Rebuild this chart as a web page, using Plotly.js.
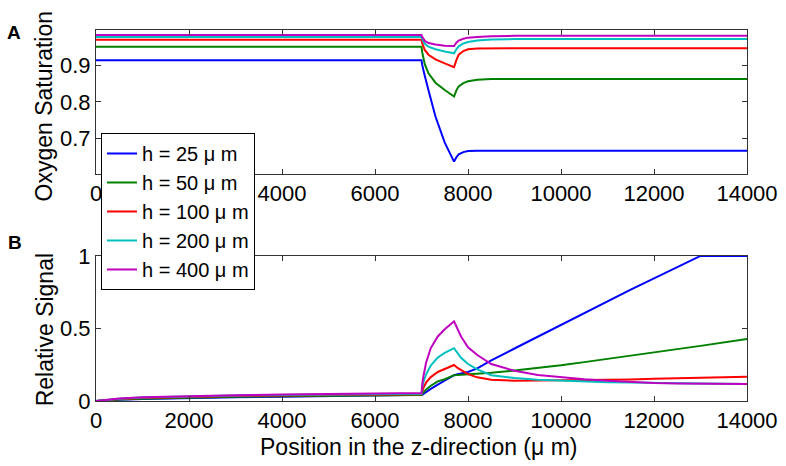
<!DOCTYPE html>
<html>
<head>
<meta charset="utf-8">
<script src="https://cdn.plot.ly/plotly-3.0.1.min.js"></script>
<style>html,body{margin:0;padding:0;background:#fff;}#chart{width:786px;height:466px;}</style>
</head>
<body>
<div id="chart"></div>
<script>
// Legend labels
var seriesNames = ['h = 25 \u03bc m', 'h = 50 \u03bc m', 'h = 100 \u03bc m', 'h = 200 \u03bc m', 'h = 400 \u03bc m'];
var seriesColors = ['#0000ff', '#008000', '#ff0000', '#00bfbf', '#bf00bf'];

// Panel A: oxygen saturation vs position (um)
var zTop = [0, 7000, 7015, 7030, 7070, 7150, 7300, 7500, 7700, 7750, 7800, 7900, 8000, 8200, 8500, 9000, 14000];
var so2_h25  = [0.915, 0.915, 0.902, 0.892, 0.872, 0.832, 0.760, 0.688, 0.636, 0.648, 0.656, 0.662, 0.665, 0.666, 0.666, 0.666, 0.666];
var so2_h50  = [0.952, 0.952, 0.937, 0.925, 0.904, 0.879, 0.853, 0.833, 0.815, 0.832, 0.843, 0.852, 0.857, 0.861, 0.863, 0.863, 0.863];
var so2_h100 = [0.971, 0.971, 0.962, 0.955, 0.943, 0.930, 0.917, 0.906, 0.896, 0.915, 0.930, 0.940, 0.945, 0.947, 0.948, 0.948, 0.948];
var so2_h200 = [0.979, 0.979, 0.973, 0.968, 0.960, 0.952, 0.945, 0.939, 0.934, 0.945, 0.953, 0.961, 0.965, 0.969, 0.972, 0.973, 0.9735];
var so2_h400 = [0.984, 0.984, 0.979, 0.975, 0.968, 0.962, 0.958, 0.955, 0.954, 0.963, 0.969, 0.974, 0.977, 0.979, 0.981, 0.982, 0.982];

// Panel B: relative signal vs position (um)
var zBot = [0, 250, 500, 1000, 2000, 3000, 4000, 5000, 6000, 7000, 7020, 7040, 7100, 7200, 7350, 7500, 7700, 7775, 7850, 8000, 8200, 8500, 9000, 9500, 10000, 10500, 11000, 11500, 12000, 12500, 13000, 14000];
var sig_h25  = [0, 0.005, 0.008, 0.013, 0.021, 0.026, 0.030, 0.033, 0.036, 0.038, 0.043, 0.048, 0.062, 0.083, 0.113, 0.140, 0.178, 0.184, 0.190, 0.200, 0.225, 0.280, 0.362, 0.443, 0.525, 0.607, 0.690, 0.768, 0.845, 0.922, 1.000, 1.000];
var sig_h50  = [0, 0.006, 0.010, 0.016, 0.024, 0.029, 0.033, 0.036, 0.039, 0.042, 0.052, 0.060, 0.080, 0.105, 0.135, 0.150, 0.178, 0.179, 0.180, 0.182, 0.186, 0.194, 0.210, 0.226, 0.246, 0.268, 0.290, 0.312, 0.335, 0.357, 0.380, 0.428];
var sig_h100 = [0, 0.009, 0.014, 0.021, 0.030, 0.035, 0.038, 0.041, 0.043, 0.046, 0.070, 0.090, 0.128, 0.165, 0.200, 0.220, 0.248, 0.228, 0.212, 0.185, 0.163, 0.147, 0.139, 0.140, 0.142, 0.144, 0.146, 0.149, 0.153, 0.156, 0.160, 0.168];
var sig_h200 = [0, 0.010, 0.016, 0.024, 0.033, 0.038, 0.041, 0.044, 0.047, 0.050, 0.100, 0.130, 0.185, 0.245, 0.300, 0.332, 0.364, 0.328, 0.298, 0.255, 0.218, 0.178, 0.158, 0.146, 0.139, 0.134, 0.130, 0.127, 0.124, 0.122, 0.120, 0.118];
var sig_h400 = [0, 0.011, 0.018, 0.026, 0.035, 0.040, 0.044, 0.048, 0.051, 0.055, 0.125, 0.170, 0.265, 0.365, 0.445, 0.495, 0.549, 0.492, 0.445, 0.370, 0.317, 0.255, 0.208, 0.180, 0.163, 0.150, 0.140, 0.131, 0.124, 0.121, 0.119, 0.117];

var xTicks = [0, 2000, 4000, 6000, 8000, 10000, 12000, 14000];

var topSeries = [so2_h25, so2_h50, so2_h100, so2_h200, so2_h400];
var botSeries = [sig_h25, sig_h50, sig_h100, sig_h200, sig_h400];

var FONT = 'Liberation Sans, Arial, Helvetica, sans-serif';
var traces = [];
for (var i = 0; i < 5; i++) {
  traces.push({x: zTop, y: topSeries[i], type: 'scatter', mode: 'lines', name: seriesNames[i],
    line: {color: seriesColors[i], width: 2}, xaxis: 'x', yaxis: 'y', showlegend: true});
}
for (var j = 0; j < 5; j++) {
  traces.push({x: zBot, y: botSeries[j], type: 'scatter', mode: 'lines', name: seriesNames[j],
    line: {color: seriesColors[j], width: 2}, xaxis: 'x2', yaxis: 'y2', showlegend: false});
}

var axisCommon = {
  showline: true, linecolor: '#333', linewidth: 1, mirror: 'ticks',
  ticks: 'inside', ticklen: 5, tickcolor: '#333', tickwidth: 1,
  showgrid: false, zeroline: false,
  tickfont: {family: FONT, size: 22, color: '#000'}
};
function ax(extra) { var o = {}; for (var k in axisCommon) o[k] = axisCommon[k]; for (var k2 in extra) o[k2] = extra[k2]; return o; }

var layout = {
  width: 786, height: 466,
  margin: {l: 96, r: 39, t: 30, b: 65},
  paper_bgcolor: '#fff', plot_bgcolor: '#fff',
  font: {family: FONT, size: 22, color: '#000'},
  xaxis: ax({domain: [0, 1], anchor: 'y', range: [0, 14000], tickvals: xTicks, ticktext: xTicks.map(String)}),
  yaxis: ax({domain: [0.612, 1], anchor: 'x', range: [0.602, 0.998], tickvals: [0.7, 0.8, 0.9], ticktext: ['0.7', '0.8', '0.9']}),
  xaxis2: ax({domain: [0, 1], anchor: 'y2', range: [0, 14000], tickvals: xTicks, ticktext: xTicks.map(String)}),
  yaxis2: ax({domain: [0, 0.391], anchor: 'x2', range: [0, 1], tickvals: [0, 0.5, 1], ticktext: ['0', '0.5', '1']}),
  showlegend: true,
  legend: {x: 0.0077, y: 0.7224, xanchor: 'left', yanchor: 'top', bgcolor: '#fff', bordercolor: '#000', borderwidth: 1,
    font: {family: FONT, size: 20, color: '#000'}, itemwidth: 30, tracegroupgap: 0},
  annotations: [
    {text: '<b>A</b>', xref: 'paper', yref: 'paper', x: -0.126, y: 0.992, xanchor: 'center', yanchor: 'middle', showarrow: false, font: {family: FONT, size: 19}},
    {text: '<b>B</b>', xref: 'paper', yref: 'paper', x: -0.124, y: 0.426, xanchor: 'center', yanchor: 'middle', showarrow: false, font: {family: FONT, size: 19}},
    {text: 'Oxygen Saturation', xref: 'paper', yref: 'paper', x: -0.0784, y: 0.7965, xanchor: 'center', yanchor: 'middle', textangle: -90, showarrow: false, font: {family: FONT, size: 23}},
    {text: 'Relative Signal', xref: 'paper', yref: 'paper', x: -0.0784, y: 0.193, xanchor: 'center', yanchor: 'middle', textangle: -90, showarrow: false, font: {family: FONT, size: 23}},
    {text: 'Position in the z-direction (\u03bc m)', xref: 'paper', yref: 'paper', x: 0.495, y: -0.124, xanchor: 'center', yanchor: 'middle', showarrow: false, font: {family: FONT, size: 23}}
  ]
};

Plotly.newPlot('chart', traces, layout, {displayModeBar: false, staticPlot: true});
</script>
</body>
</html>
